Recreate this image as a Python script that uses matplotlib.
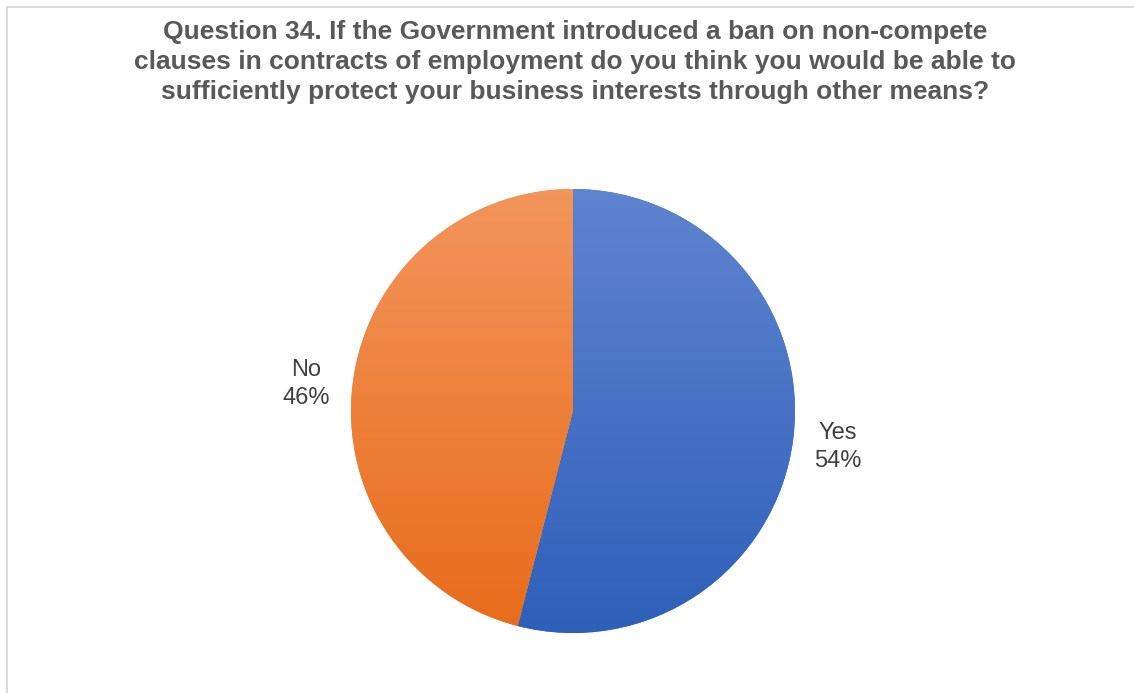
import numpy as np
import matplotlib
matplotlib.use("Agg")
import matplotlib.pyplot as plt
from matplotlib.lines import Line2D
from matplotlib.colors import LinearSegmentedColormap

categories = ["Yes", "No"]
shares = [54, 46]
title_text = ("Question 34. If the Government introduced a ban on non-compete\n"
              "clauses in contracts of employment do you think you would be able to\n"
              "sufficiently protect your business interests through other means?")

W, H = 1134, 693
fig = plt.figure(figsize=(W / 100, H / 100), dpi=100)
fig.patch.set_facecolor("white")

cx, cy, r = 573, 411, 222
ax = fig.add_axes([(cx - r) / W, 1 - (cy + r) / H, 2 * r / W, 2 * r / H])

top_cols = ["#5f84d0", "#f3955c"]
bot_cols = ["#2e60b9", "#e86c1a"]
base_cols = ["#4472c4", "#ed7d31"]

wedges, _ = ax.pie(shares, startangle=90, counterclock=False, radius=1,
                   colors=base_cols, wedgeprops=dict(linewidth=0))

# vertical gradient fill clipped to each wedge
for w, c0, c1 in zip(wedges, top_cols, bot_cols):
    cmap = LinearSegmentedColormap.from_list("g", [c1, c0])
    grad = np.linspace(0, 1, 256).reshape(-1, 1)
    im = ax.imshow(grad, extent=(-1, 1, -1, 1), origin="lower", cmap=cmap,
                   aspect="auto", zorder=w.get_zorder() + 0.1)
    im.set_clip_path(w)
ax.set_xlim(-1, 1)
ax.set_ylim(-1, 1)
ax.set_aspect("equal")
ax.axis("off")

# data labels
label_pos = {"No": (306, 384), "Yes": (838, 447)}
for cat, val in zip(categories, shares):
    px, py = label_pos[cat]
    fig.text(px / W, 1 - py / H, f"{cat}\n{val}%", ha="center", va="center",
             fontsize=17, color="#404040", family="Liberation Sans",
             linespacing=1.3)

fig.text(575 / W, 1 - 62 / H, title_text, ha="center", va="center",
         fontsize=19, fontweight="bold", color="#595959",
         family="Liberation Sans", linespacing=1.29)

# chart border (left and top)
fig.add_artist(Line2D([6.5 / W, 6.5 / W], [0, 1 - 7 / H], transform=fig.transFigure,
                      color="#d9d9d9", lw=1.3))
fig.add_artist(Line2D([6.5 / W, 1], [1 - 7 / H, 1 - 7 / H], transform=fig.transFigure,
                      color="#d9d9d9", lw=1.3))

fig.savefig("out.png", dpi=100, facecolor="white")
